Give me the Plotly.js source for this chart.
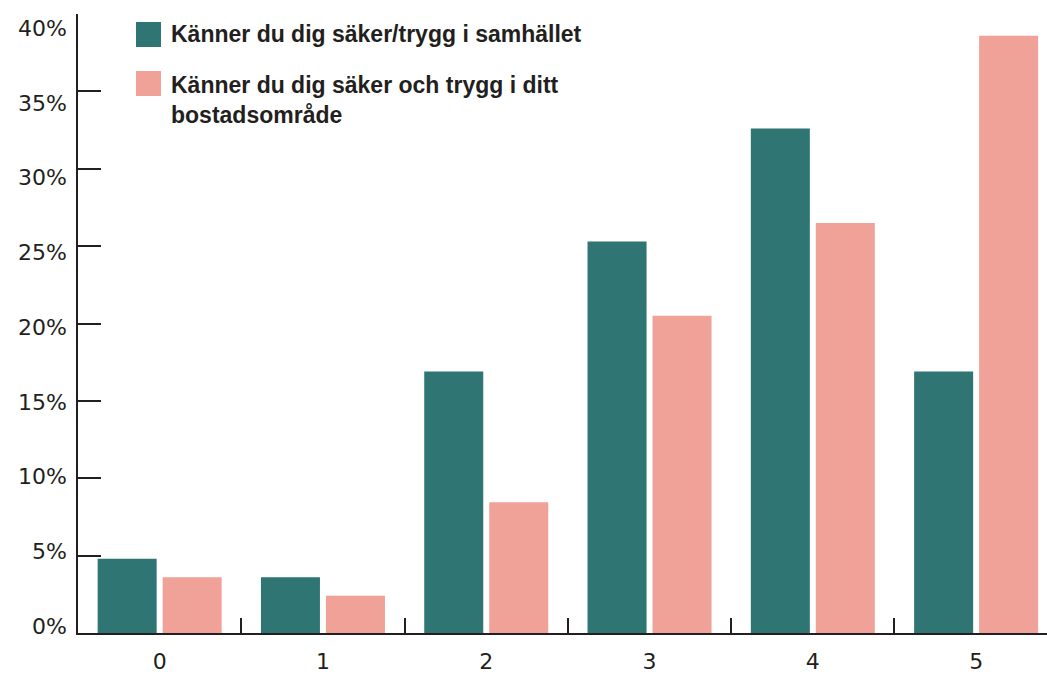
<!DOCTYPE html>
<html>
<head>
<meta charset="utf-8">
<script src="https://cdn.plot.ly/plotly-3.0.1.min.js"></script>
<style>html,body{margin:0;padding:0;background:#fff;}#chart{width:1047px;height:675px;}</style>
</head>
<body>
<div id="chart"></div>
<script>
var categories = ['0', '1', '2', '3', '4', '5'];
var samhallet = [4.8, 3.6, 16.9, 25.3, 32.6, 16.9];
var bostadsomrade = [3.6, 2.4, 8.45, 20.5, 26.5, 38.6];
var seriesNames = ['Känner du dig säker/trygg i samhället', 'Känner du dig säker och trygg i ditt<br>bostadsområde'];
var yTickValues = [0, 5, 10, 15, 20, 25, 30, 35, 40];
var yTickLabels = ['0%', '5%', '10%', '15%', '20%', '25%', '30%', '35%', '40%'];

var teal = '#2f7573';
var pink = '#f0a198';
var ink = '#231f20';
var fam = '"Liberation Sans", Arial, sans-serif';
var tickFam = '"DejaVu Sans", sans-serif';

var traces = [
  {type: 'bar', x: categories, y: samhallet, name: seriesNames[0], marker: {color: teal}, showlegend: false},
  {type: 'bar', x: categories, y: bostadsomrade, name: seriesNames[1], marker: {color: pink}, showlegend: false},
  // label-only axis (labels sit slightly off the tick marks in the original)
  {type: 'scatter', x: [categories[0]], y: [0], yaxis: 'y2', mode: 'markers', marker: {opacity: 0}, hoverinfo: 'skip', showlegend: false}
];

var W = 1047, H = 675, L = 78, T = 14, B = 42, R = 0;
var pw = W - L - R, ph = H - T - B;
function px2x(px) { return (px - L) / pw; }
function py2y(py) { return (H - B - py) / ph; }

var layout = {
  width: W, height: H,
  margin: {l: L, r: R, t: T, b: B},
  paper_bgcolor: '#ffffff', plot_bgcolor: '#ffffff',
  barmode: 'group', bargap: 0.204, bargroupgap: 0.092,
  font: {family: fam, color: ink},
  xaxis: {
    type: 'category', range: [-0.5, 5.434],
    showline: true, linecolor: ink, linewidth: 2,
    ticks: 'inside', tickson: 'boundaries', ticklen: 15, tickwidth: 2, tickcolor: ink,
    showgrid: false, zeroline: false,
    tickfont: {family: tickFam, size: 22, color: ink},
    ticklabelstandoff: 8
  },
  yaxis: {
    range: [0, 40], tickvals: yTickValues, ticktext: yTickLabels,
    showticklabels: false,
    showline: true, linecolor: ink, linewidth: 2,
    ticks: 'inside', ticklen: 23, tickwidth: 2, tickcolor: ink,
    showgrid: false, zeroline: false
  },
  yaxis2: {
    overlaying: 'y', side: 'left', range: [-0.4685, 40.958],
    tickvals: yTickValues, ticktext: yTickLabels,
    showline: false, ticks: '', showgrid: false, zeroline: false,
    tickfont: {family: tickFam, size: 22, color: ink},
    ticklabelstandoff: 10
  },
  shapes: [
    {type: 'rect', xref: 'paper', yref: 'paper', x0: px2x(136), x1: px2x(161), y0: py2y(47), y1: py2y(22), fillcolor: teal, line: {width: 0}},
    {type: 'rect', xref: 'paper', yref: 'paper', x0: px2x(136), x1: px2x(161), y0: py2y(96), y1: py2y(71), fillcolor: pink, line: {width: 0}}
  ],
  annotations: [
    {xref: 'paper', yref: 'paper', x: px2x(169), y: py2y(34.5), xanchor: 'left', yanchor: 'middle', showarrow: false, align: 'left',
     text: '<b>' + seriesNames[0] + '</b>', font: {family: fam, size: 23, color: ink}},
    {xref: 'paper', yref: 'paper', x: px2x(169), y: py2y(70), xanchor: 'left', yanchor: 'top', showarrow: false, align: 'left',
     text: '<b>' + seriesNames[1] + '</b>', font: {family: fam, size: 23, color: ink}}
  ]
};

Plotly.newPlot('chart', traces, layout, {displayModeBar: false, staticPlot: true});
</script>
</body>
</html>
